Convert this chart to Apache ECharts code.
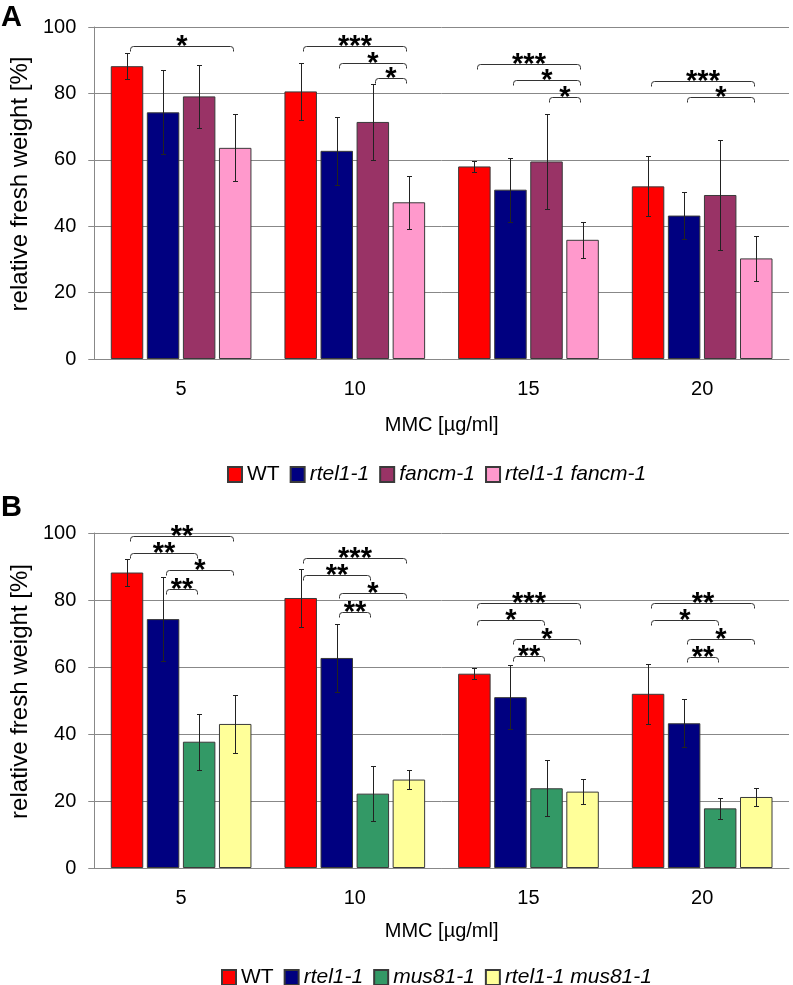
<!DOCTYPE html>
<html>
<head>
<meta charset="utf-8">
<script src="https://cdn.jsdelivr.net/npm/echarts@6/dist/echarts.min.js"></script>
<style>
html,body{margin:0;padding:0;background:#fff;}
#chart{width:793px;height:985px;}
</style>
</head>
<body>
<div id="chart"></div>
<script>
// ---------- data ----------
const categories = ['5', '10', '15', '20'];
const namesA = ['WT', 'rtel1-1', 'fancm-1', 'rtel1-1 fancm-1'];
const namesB = ['WT', 'rtel1-1', 'mus81-1', 'rtel1-1 mus81-1'];

const wt = [88.2, 80.6, 58.0, 52.0];
const wtErr = [4.0, 8.7, 1.6, 9.0];
const rtel1 = [74.3, 62.7, 51.0, 43.2];
const rtel1Err = [12.6, 10.2, 9.6, 7.2];
const fancm1 = [79.1, 71.4, 59.5, 49.4];
const fancm1Err = [9.4, 11.4, 14.2, 16.5];
const rtel1fancm1 = [63.6, 47.2, 35.9, 30.3];
const rtel1fancm1Err = [10.1, 8.0, 5.4, 6.7];
const mus811 = [37.7, 22.2, 23.8, 17.8];
const mus811Err = [8.4, 8.3, 8.4, 3.2];
const rtel1mus811 = [43.0, 26.4, 22.8, 21.2];
const rtel1mus811Err = [8.7, 2.9, 3.7, 2.7];

const yTicks = [0, 20, 40, 60, 80, 100];

// significance brackets: [category index, from bar, to bar, y level, label]
const sigA = [
  [0, 0, 3, 94.4, '*'],
  [1, 0, 3, 94.4, '***'], [1, 1, 3, 89.2, '*'], [1, 2, 3, 84.5, '*'],
  [2, 0, 3, 88.9, '***'], [2, 1, 3, 83.9, '*'], [2, 2, 3, 79.0, '*'],
  [3, 0, 3, 83.8, '***'], [3, 1, 3, 79.0, '*']
];
const sigB = [
  [0, 0, 3, 99.1, '**'], [0, 0, 2, 94.1, '**'], [0, 1, 3, 88.9, '*'], [0, 1, 2, 83.4, '**'],
  [1, 0, 3, 92.4, '***'], [1, 0, 2, 87.4, '**'], [1, 1, 3, 82.1, '*'], [1, 1, 2, 76.4, '**'],
  [2, 0, 3, 79.1, '***'], [2, 0, 2, 74.1, '*'], [2, 1, 3, 68.5, '*'], [2, 1, 2, 63.3, '**'],
  [3, 0, 3, 79.1, '**'], [3, 0, 2, 74.1, '*'], [3, 1, 3, 68.5, '*'], [3, 1, 2, 63.0, '**']
];

const colorsA = ['#ff0000', '#000080', '#993366', '#ff99cc'];
const colorsB = ['#ff0000', '#000080', '#339966', '#ffff99'];

// ---------- layout helpers ----------
const CAT_GAP = 0.19, BAR_GAP = 0.11, NBARS = 4;
function barCenter(api, cat, idx) {
  const bw = api.size([1, 0])[0];
  const avail = bw * (1 - CAT_GAP);
  const w = avail / (NBARS + (NBARS - 1) * BAR_GAP);
  const gap = w * BAR_GAP;
  const total = NBARS * w + (NBARS - 1) * gap;
  const c = api.coord([cat, 0])[0];
  return c - total / 2 + idx * (w + gap) + w / 2;
}

const FONT = '"Liberation Sans", Arial, sans-serif';

function barSeries(name, values, color, gi) {
  return {
    type: 'bar', name: name, data: values,
    xAxisIndex: gi, yAxisIndex: gi,
    barCategoryGap: (CAT_GAP * 100) + '%', barGap: (BAR_GAP * 100) + '%',
    itemStyle: { color: color, borderColor: '#3a3a3a', borderWidth: 1 },
    z: 2
  };
}

function errSeries(valsList, errList, gi) {
  const data = [];
  valsList.forEach((vals, s) => {
    vals.forEach((v, c) => data.push([c, s, v - errList[s][c], v + errList[s][c]]));
  });
  return {
    type: 'custom', xAxisIndex: gi, yAxisIndex: gi, z: 5, silent: true,
    data: data, encode: { x: 0, y: [2, 3] },
    renderItem: function (params, api) {
      const c = api.value(0), s = api.value(1);
      const x = Math.round(barCenter(api, c, s)) + 0.5;
      const yLo = Math.round(api.coord([c, api.value(2)])[1]) + 0.5;
      const yHi = Math.round(api.coord([c, api.value(3)])[1]) + 0.5;
      const st = { stroke: '#222', lineWidth: 1 };
      return {
        type: 'group', children: [
          { type: 'line', shape: { x1: x, y1: yLo, x2: x, y2: yHi }, style: st },
          { type: 'line', shape: { x1: x - 2.5, y1: yLo, x2: x + 2.5, y2: yLo }, style: st },
          { type: 'line', shape: { x1: x - 2.5, y1: yHi, x2: x + 2.5, y2: yHi }, style: st }
        ]
      };
    }
  };
}

function sigSeries(sig, gi) {
  return {
    type: 'custom', xAxisIndex: gi, yAxisIndex: gi, z: 6, silent: true, clip: false,
    data: sig.map(r => [r[0], r[1], r[2], r[3]]), encode: { x: 0, y: 3 },
    renderItem: function (params, api) {
      const r = sig[params.dataIndex];
      const c = r[0];
      const x1 = Math.round(barCenter(api, c, r[1]) + 2.5) + 0.5;
      const x2 = Math.round(barCenter(api, c, r[2]) - 2.5) + 0.5;
      const y = Math.round(api.coord([c, r[3]])[1]) + 0.5;
      const d = 5, rr = 3;
      const path = 'M' + x1 + ' ' + (y + d) + ' L' + x1 + ' ' + (y + rr) +
        ' Q' + x1 + ' ' + y + ' ' + (x1 + rr) + ' ' + y +
        ' L' + (x2 - rr) + ' ' + y +
        ' Q' + x2 + ' ' + y + ' ' + x2 + ' ' + (y + rr) +
        ' L' + x2 + ' ' + (y + d);
      return {
        type: 'group', children: [
          { type: 'path', shape: { pathData: path }, style: { stroke: '#333', lineWidth: 1, fill: null } },
          { type: 'text', x: (x1 + x2) / 2, y: y,
            style: { text: r[4], fontSize: 29, fontWeight: 'bold', fontFamily: FONT, fill: '#000', align: 'center', verticalAlign: 'middle' } }
        ]
      };
    }
  };
}

const axisLineStyle = { color: '#888', width: 1 };

function xAxis(gi, nameGap) {
  return {
    type: 'category', gridIndex: gi, data: categories,
    name: 'MMC [µg/ml]', nameLocation: 'middle', nameGap: nameGap,
    nameTextStyle: { fontSize: 20, fontFamily: FONT, color: '#000' },
    axisLine: { lineStyle: axisLineStyle },
    axisTick: { length: 6, lineStyle: axisLineStyle },
    axisLabel: { fontSize: 20, fontFamily: FONT, color: '#000', margin: 20 },
    splitLine: { show: false }
  };
}
function yAxis(gi) {
  return {
    type: 'value', gridIndex: gi, min: yTicks[0], max: yTicks[yTicks.length - 1], interval: 20,
    name: 'relative fresh weight [%]', nameLocation: 'middle', nameGap: 40,
    nameTextStyle: { fontSize: 24, fontFamily: FONT, color: '#000', padding: [0, 0, 0, 18] },
    axisLine: { show: true, lineStyle: axisLineStyle },
    axisTick: { show: true, length: 6, lineStyle: axisLineStyle },
    axisLabel: { fontSize: 20, fontFamily: FONT, color: '#000', margin: 18 },
    splitLine: { show: true, lineStyle: { color: '#888', width: 1 } }
  };
}

function legendFmt(name) {
  return name === 'WT' ? '{n|' + name + '}' : '{i|' + name + '}';
}
function legend(names, left, top) {
  return {
    data: names, left: left, top: top, itemWidth: 14, itemHeight: 15, itemGap: 10,
    icon: 'rect', selectedMode: false,
    formatter: legendFmt,
    textStyle: {
      fontSize: 21, fontFamily: FONT, color: '#000',
      rich: {
        n: { fontSize: 21, fontFamily: FONT, color: '#000' },
        i: { fontSize: 21, fontFamily: FONT, color: '#000', fontStyle: 'italic' }
      }
    }
  };
}

const chart = echarts.init(document.getElementById('chart'), null, { renderer: 'canvas' });
chart.setOption({
  backgroundColor: '#fff',
  animation: false,
  title: [
    { text: 'A', left: -4, top: -2, textStyle: { fontSize: 29, fontWeight: 'bold', fontFamily: FONT, color: '#000' } },
    { text: 'B', left: -4, top: 488, textStyle: { fontSize: 29, fontWeight: 'bold', fontFamily: FONT, color: '#000' } }
  ],
  grid: [
    { left: 92, right: 4, top: 27, height: 332 },
    { left: 92, right: 4, top: 533, height: 335 }
  ],
  legend: [legend(namesA, 222, 459), legend(namesB, 216, 962)],
  xAxis: [xAxis(0, 56), xAxis(1, 53)],
  yAxis: [yAxis(0), yAxis(1)],
  series: [
    barSeries(namesA[0], wt, colorsA[0], 0),
    barSeries(namesA[1], rtel1, colorsA[1], 0),
    barSeries(namesA[2], fancm1, colorsA[2], 0),
    barSeries(namesA[3], rtel1fancm1, colorsA[3], 0),
    errSeries([wt, rtel1, fancm1, rtel1fancm1], [wtErr, rtel1Err, fancm1Err, rtel1fancm1Err], 0),
    sigSeries(sigA, 0),
    barSeries(namesB[0], wt, colorsB[0], 1),
    barSeries(namesB[1], rtel1, colorsB[1], 1),
    barSeries(namesB[2], mus811, colorsB[2], 1),
    barSeries(namesB[3], rtel1mus811, colorsB[3], 1),
    errSeries([wt, rtel1, mus811, rtel1mus811], [wtErr, rtel1Err, mus811Err, rtel1mus811Err], 1),
    sigSeries(sigB, 1)
  ]
});
</script>
</body>
</html>
